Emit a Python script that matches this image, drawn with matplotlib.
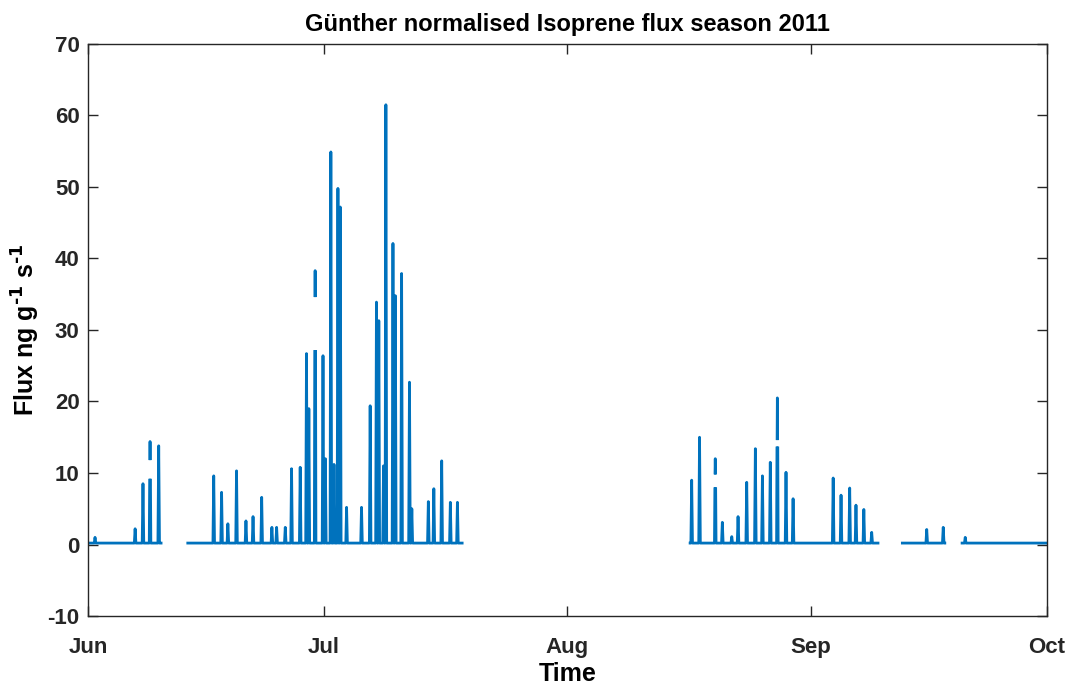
import numpy as np
import matplotlib
matplotlib.use("Agg")
import matplotlib.pyplot as plt
import matplotlib.dates as mdates
from datetime import datetime

# data coverage, days after 1 Jun 2011
seg_start = [0.0, 12.7, 76.6, 103.6, 111.2]
seg_end = [9.3, 47.6, 100.5, 109.0, 121.9]

# daily flux peaks (day after 1 Jun, peak value)
spike_day = [0.9, 6.0, 7.0, 7.9, 9.0,
             16.0, 17.0, 17.8, 18.9, 20.1, 21.0, 22.1, 23.4, 24.0, 25.1,
             25.9, 27.0, 27.8, 28.1, 28.9, 29.9, 30.2, 30.9, 31.3, 31.8,
             32.1, 32.9, 34.8, 35.9, 36.7, 37.0, 37.6, 37.9, 38.8, 39.1,
             39.9, 40.9, 41.2, 43.3, 44.0, 45.0, 46.1, 47.0,
             76.8, 77.8, 79.8, 80.7, 81.9, 82.7, 83.8, 84.9, 85.8, 86.8,
             87.7, 88.8, 89.7, 94.8, 95.8, 96.9, 97.7, 98.7, 99.7,
             106.7, 108.8, 111.6]
spike_peak = [1.0, 2.2, 8.5, 14.4, 13.8,
              9.6, 7.3, 2.9, 10.3, 3.3, 3.9, 6.6, 2.4, 2.4, 2.4,
              10.6, 10.8, 26.7, 19.0, 38.3, 26.4, 12.0, 54.9, 11.2, 49.8,
              47.2, 5.2, 5.2, 19.4, 33.9, 31.3, 11.0, 61.5, 42.1, 34.8,
              37.9, 22.7, 5.0, 6.0, 7.8, 11.7, 5.9, 5.9,
              9.0, 15.0, 12.0, 3.1, 1.1, 3.9, 8.7, 13.4, 9.6, 11.5,
              20.5, 10.1, 6.4, 9.3, 6.9, 7.9, 5.5, 4.9, 1.7,
              2.1, 2.4, 1.0]
# missing data inside a few peaks (day, gap low, gap high)
gap_day = [7.9, 28.9, 79.8, 87.7]
gap_lo = [9.0, 27.0, 7.8, 13.5]
gap_hi = [12.0, 34.8, 10.0, 14.8]

night = 0.2

t = []
v = []
for a, b in zip(seg_start, seg_end):
    t.append(a)
    v.append(night)
    for d, p in zip(spike_day, spike_peak):
        if d < a or d > b:
            continue
        if d in gap_day:
            k = gap_day.index(d)
            t += [d - 0.1, d - 0.05, np.nan, d - 0.03, d, d + 0.03, np.nan, d + 0.05, d + 0.1]
            v += [night, gap_lo[k], np.nan, gap_hi[k], p, gap_hi[k], np.nan, gap_lo[k], night]
        else:
            t += [d - 0.1, d, d + 0.1]
            v += [night, p, night]
    t.append(b)
    v.append(night)
    t.append(np.nan)
    v.append(np.nan)

t = np.array(t, dtype=float)
v = np.array(v, dtype=float)
x = mdates.date2num(datetime(2011, 6, 1)) + t

plt.rcParams['font.family'] = ['Liberation Sans', 'DejaVu Sans']
plt.rcParams['font.weight'] = 'bold'
plt.rcParams['axes.unicode_minus'] = False
plt.rcParams['mathtext.default'] = 'bf'

fig = plt.figure(figsize=(10.7, 6.84), dpi=100)
ax = fig.add_axes([0.0822, 0.0994, 0.8963, 0.8363])
ax.plot(x, v, color='#0072BD', lw=2.0)

ax.set_xlim(mdates.date2num(datetime(2011, 6, 1)), mdates.date2num(datetime(2011, 10, 1)))
ax.set_ylim(-10, 70)
ax.set_yticks(range(-10, 71, 10))
ax.xaxis.set_major_locator(mdates.MonthLocator())
ax.xaxis.set_major_formatter(mdates.DateFormatter('%b'))

ax.tick_params(direction='in', length=7, width=1, top=True, right=True,
               labelsize=16, colors='#262626')
ax.tick_params(axis='y', pad=6)
ax.tick_params(axis='x', pad=15)
for s in ax.spines.values():
    s.set_color('#262626')
    s.set_linewidth(1)

ax.set_title('Günther normalised Isoprene flux season 2011', fontsize=17,
             fontweight='bold', pad=9)
ax.set_xlabel('Time', fontsize=18, fontweight='bold', labelpad=3)
ax.set_ylabel(r'Flux ng g$^{\text{-}1}$ s$^{\text{-}1}$', fontsize=18,
              fontweight='bold', labelpad=4)

fig.savefig('out.png', dpi=100)
